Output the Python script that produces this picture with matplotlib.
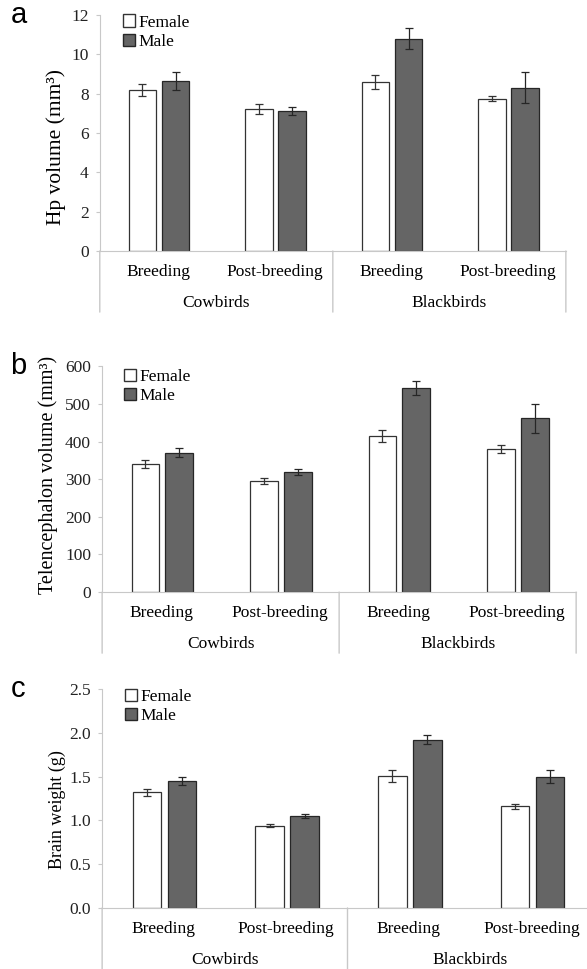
import matplotlib
matplotlib.use("Agg")
import matplotlib.pyplot as plt
import matplotlib.transforms as mtransforms
from matplotlib.patches import Patch
import numpy as np

plt.rcParams['font.family'] = ['Liberation Serif', 'DejaVu Serif']

seasons = ["Breeding", "Post-breeding", "Breeding", "Post-breeding"]
species = ["Cowbirds", "Blackbirds"]

hp_female = [8.2, 7.2, 8.6, 7.75]
hp_male = [8.65, 7.1, 10.8, 8.3]
hp_female_err = [0.3, 0.25, 0.35, 0.12]
hp_male_err = [0.45, 0.2, 0.55, 0.8]

tel_female = [340, 295, 415, 380]
tel_male = [370, 318, 543, 462]
tel_female_err = [10, 8, 15, 10]
tel_male_err = [12, 8, 18, 38]

bw_female = [1.32, 0.94, 1.51, 1.16]
bw_male = [1.45, 1.05, 1.92, 1.50]
bw_female_err = [0.04, 0.015, 0.07, 0.03]
bw_male_err = [0.05, 0.02, 0.05, 0.07]

# letter, ylabel, data, ymax, step, fmt, axes rect, ylabel (size, x, y), legend x/y
panels = [
    ("a", "Hp volume (mm³)", hp_female, hp_male, hp_female_err, hp_male_err,
     12, 2, "{:.0f}", [0.170, 0.741, 0.794, 0.2436], (15.5, -0.073, 0.44), (0.05, 1.002)),
    ("b", "Telencephalon volume (mm³)", tel_female, tel_male, tel_female_err, tel_male_err,
     600, 100, "{:.0f}", [0.174, 0.389, 0.8075, 0.233], (14.5, -0.093, 0.52), (0.046, 0.99)),
    ("c", "Brain weight (g)", bw_female, bw_male, bw_female_err, bw_male_err,
     2.5, 0.5, "{:.1f}", [0.174, 0.063, 0.836, 0.226], (13, -0.074, 0.45), (0.047, 1.002)),
]

fig = plt.figure(figsize=(5.87, 9.69), dpi=100)
line_col = "#c8c8c8"
x = np.arange(len(seasons)) + 0.5
w = 0.235
gap = 0.05
shift = 0.008

for letter, ylab, fem, mal, fem_e, mal_e, ymax, step, fmt, pos, lab, leg in panels:
    ax = fig.add_axes(pos)
    ax.bar(x - (w + gap) / 2 + shift, fem, w, color="white", edgecolor="#333333", linewidth=0.9,
           yerr=fem_e, error_kw=dict(ecolor="#333333", elinewidth=0.9, capsize=3, capthick=0.9))
    ax.bar(x + (w + gap) / 2 + shift, mal, w, color="#656565", edgecolor="#262626", linewidth=0.9,
           yerr=mal_e, error_kw=dict(ecolor="#262626", elinewidth=0.9, capsize=3, capthick=0.9))
    ax.set_xlim(0, 4)
    ax.set_ylim(0, ymax)
    ticks = np.arange(0, ymax + step / 2, step)
    ax.set_yticks(ticks)
    ax.set_yticklabels([fmt.format(t) for t in ticks], fontsize=12.5, color="#222222")
    ax.tick_params(axis="y", length=3, width=0.8, color=line_col, pad=5)
    ax.set_xticks([])
    for s in ["top", "right"]:
        ax.spines[s].set_visible(False)
    ax.spines["left"].set_color(line_col)
    ax.spines["bottom"].set_color(line_col)
    ax.set_ylabel(ylab, fontsize=lab[0])
    ax.yaxis.set_label_coords(lab[1], lab[2])

    trans = mtransforms.blended_transform_factory(ax.transData, ax.transAxes)
    for xv in [0, 2, 4]:
        ax.annotate("", xy=(xv, 0), xycoords=trans, xytext=(xv, -44), textcoords=("data", "offset points"),
                    arrowprops=dict(arrowstyle="-", color=line_col, lw=1, shrinkA=0, shrinkB=0),
                    annotation_clip=False)
    for xi, s in zip(x, seasons):
        ax.annotate(s, xy=(xi, 0), xycoords=trans, xytext=(0, -15), textcoords="offset points",
                    ha="center", va="center", fontsize=12.5)
    for i, sp in enumerate(species):
        ax.annotate(sp, xy=(1 + 2 * i, 0), xycoords=trans, xytext=(0, -37.5), textcoords="offset points",
                    ha="center", va="center", fontsize=12.5)

    handles = [Patch(facecolor="white", edgecolor="#333333", label="Female"),
               Patch(facecolor="#656565", edgecolor="#262626", label="Male")]
    ax.legend(handles=handles, loc="upper left", bbox_to_anchor=leg, frameon=False,
              borderaxespad=0, borderpad=0,
              fontsize=12.5, handlelength=0.7, handleheight=0.7, handletextpad=0.2, labelspacing=0.2)

    fig.text(0.018, pos[1] + pos[3], letter, fontsize=21, family="Liberation Sans", va="center")

fig.savefig("out.png", dpi=100)
